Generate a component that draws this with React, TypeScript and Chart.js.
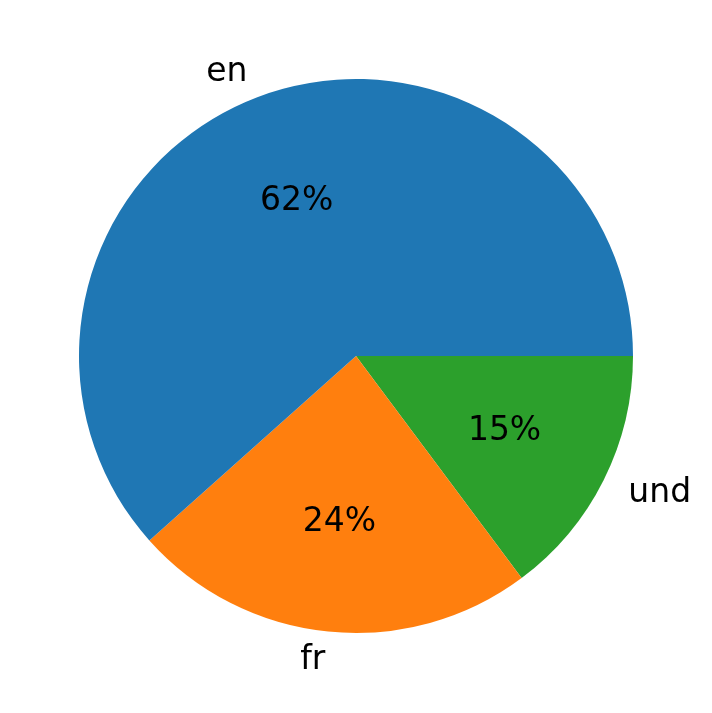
import React, { useEffect, useRef } from "react";
import { Chart, registerables } from "chart.js";

Chart.register(...registerables);

// Data (matplotlib order: counterclockwise from east)
const categories = ["en", "fr", "und"];
const values = [61.6, 23.6, 14.8];
const colors = ["#1f77b4", "#ff7f0e", "#2ca02c"];

// Chart.js draws clockwise from its rotation; reverse to mimic counterclockwise drawing
const cjLabels = [...categories].reverse();
const cjValues = [...values].reverse();
const cjColors = [...colors].reverse();

const FONT = "33px 'DejaVu Sans'";

const labelPlugin = {
  id: "mplLabels",
  afterDatasetsDraw(chart: any) {
    const ctx = chart.ctx;
    const meta = chart.getDatasetMeta(0);
    const total = cjValues.reduce((a, b) => a + b, 0);
    ctx.save();
    ctx.fillStyle = "#000";
    ctx.font = FONT;
    meta.data.forEach((arc: any, i: number) => {
      const { x, y, startAngle, endAngle, outerRadius } = arc.getProps(
        ["x", "y", "startAngle", "endAngle", "outerRadius"],
        true
      );
      const mid = (startAngle + endAngle) / 2;
      const cos = Math.cos(mid);
      const sin = Math.sin(mid);
      // outside label
      const lx = x + 1.1 * outerRadius * cos;
      const ly = y + 1.1 * outerRadius * sin;
      ctx.textAlign = cos >= 0 ? "left" : "right";
      ctx.textBaseline = "middle";
      ctx.fillText(cjLabels[i], lx, ly + 1);
      // percent label
      const px = x + 0.6 * outerRadius * cos;
      const py = y + 0.6 * outerRadius * sin;
      ctx.textAlign = "center";
      ctx.fillText(Math.round((cjValues[i] / total) * 100) + "%", px, py + 1);
    });
    ctx.restore();
  },
};

export default function App() {
  const ref = useRef<HTMLCanvasElement>(null);
  useEffect(() => {
    document.body.style.margin = "0";
    const chart = new Chart(ref.current!, {
      type: "pie",
      data: {
        labels: cjLabels,
        datasets: [
          {
            data: cjValues,
            backgroundColor: cjColors,
            borderWidth: 0,
          },
        ],
      },
      options: {
        responsive: false,
        animation: false,
        rotation: 90,
        layout: { padding: { left: 79, right: 79, top: 79, bottom: 80 } },
        plugins: {
          legend: { display: false },
          tooltip: { enabled: false },
        },
      },
      plugins: [labelPlugin],
    });
    return () => chart.destroy();
  }, []);
  return (
    <div style={{ width: 712, height: 713, background: "#fff" }}>
      <canvas ref={ref} width={712} height={713} style={{ display: "block" }} />
    </div>
  );
}
